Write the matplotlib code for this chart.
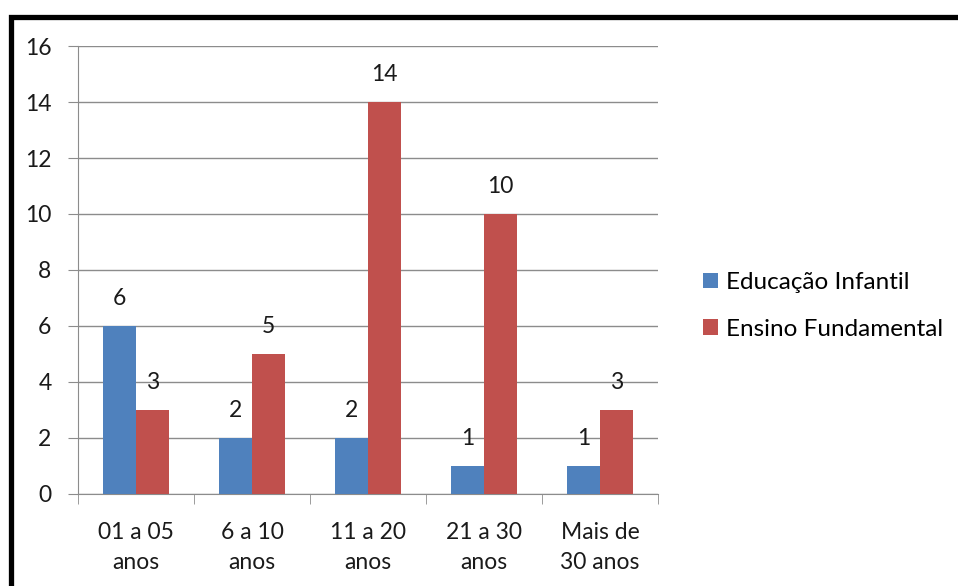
import matplotlib.pyplot as plt
import numpy as np
from matplotlib.patches import Rectangle

categories = ["01 a 05\nanos", "6 a 10\nanos", "11 a 20\nanos", "21 a 30\nanos", "Mais de\n30 anos"]
infantil = [6, 2, 2, 1, 1]
fundamental = [3, 5, 14, 10, 3]
series_names = ["Educação Infantil", "Ensino Fundamental"]

plt.rcParams['font.family'] = ['Lato', 'DejaVu Sans']

fig = plt.figure(figsize=(9.58, 5.86), dpi=100)
ax = fig.add_axes([0.0814, 0.157, 0.6055, 0.7645])

x = np.arange(len(categories))
w = 0.284
b1 = ax.bar(x - w / 2, infantil, w, color='#4F81BD', label=series_names[0], zorder=3)
b2 = ax.bar(x + w / 2, fundamental, w, color='#C0504D', label=series_names[1], zorder=3)

for bars in (b1, b2):
    for r in bars:
        ax.annotate(str(int(r.get_height())), (r.get_x() + r.get_width() / 2, r.get_height()),
                    xytext=(0, 20), textcoords='offset points', ha='center', va='center',
                    fontsize=16.5, color='#1a1a1a')

ax.set_xlim(-0.5, len(categories) - 0.5)
ax.set_ylim(0, 16)
ax.set_yticks(range(0, 17, 2))
ax.yaxis.grid(True, color='#8c8c8c', linewidth=1, zorder=0)
ax.set_xticks(x)
ax.set_xticklabels(categories, fontsize=16.5, color='#1a1a1a', linespacing=1.55)
ax.set_xticks(np.arange(-0.5, len(categories), 1), minor=True)
ax.tick_params(axis='x', which='major', length=0, pad=20)
ax.tick_params(axis='x', which='minor', length=7, color='#8c8c8c', direction='out')
ax.tick_params(axis='y', length=7, color='#8c8c8c', labelsize=16.5, labelcolor='#1a1a1a', pad=12)
for s in ['top', 'right']:
    ax.spines[s].set_visible(False)
for s in ['left', 'bottom']:
    ax.spines[s].set_color('#8c8c8c')

ax.legend(loc='center left', bbox_to_anchor=(1.04, 0.42), frameon=False, fontsize=17.5,
          handlelength=0.6, handleheight=0.6, handletextpad=0.35, labelspacing=1.05)

# outer frame (only top and left visible in the crop)
fig.patches.append(Rectangle((10.5 / 958, -0.1), 1.2, 1.1 - 16.5 / 586, transform=fig.transFigure,
                             fill=False, edgecolor='black', linewidth=3.8, zorder=10))

fig.savefig('out.png', dpi=100)
